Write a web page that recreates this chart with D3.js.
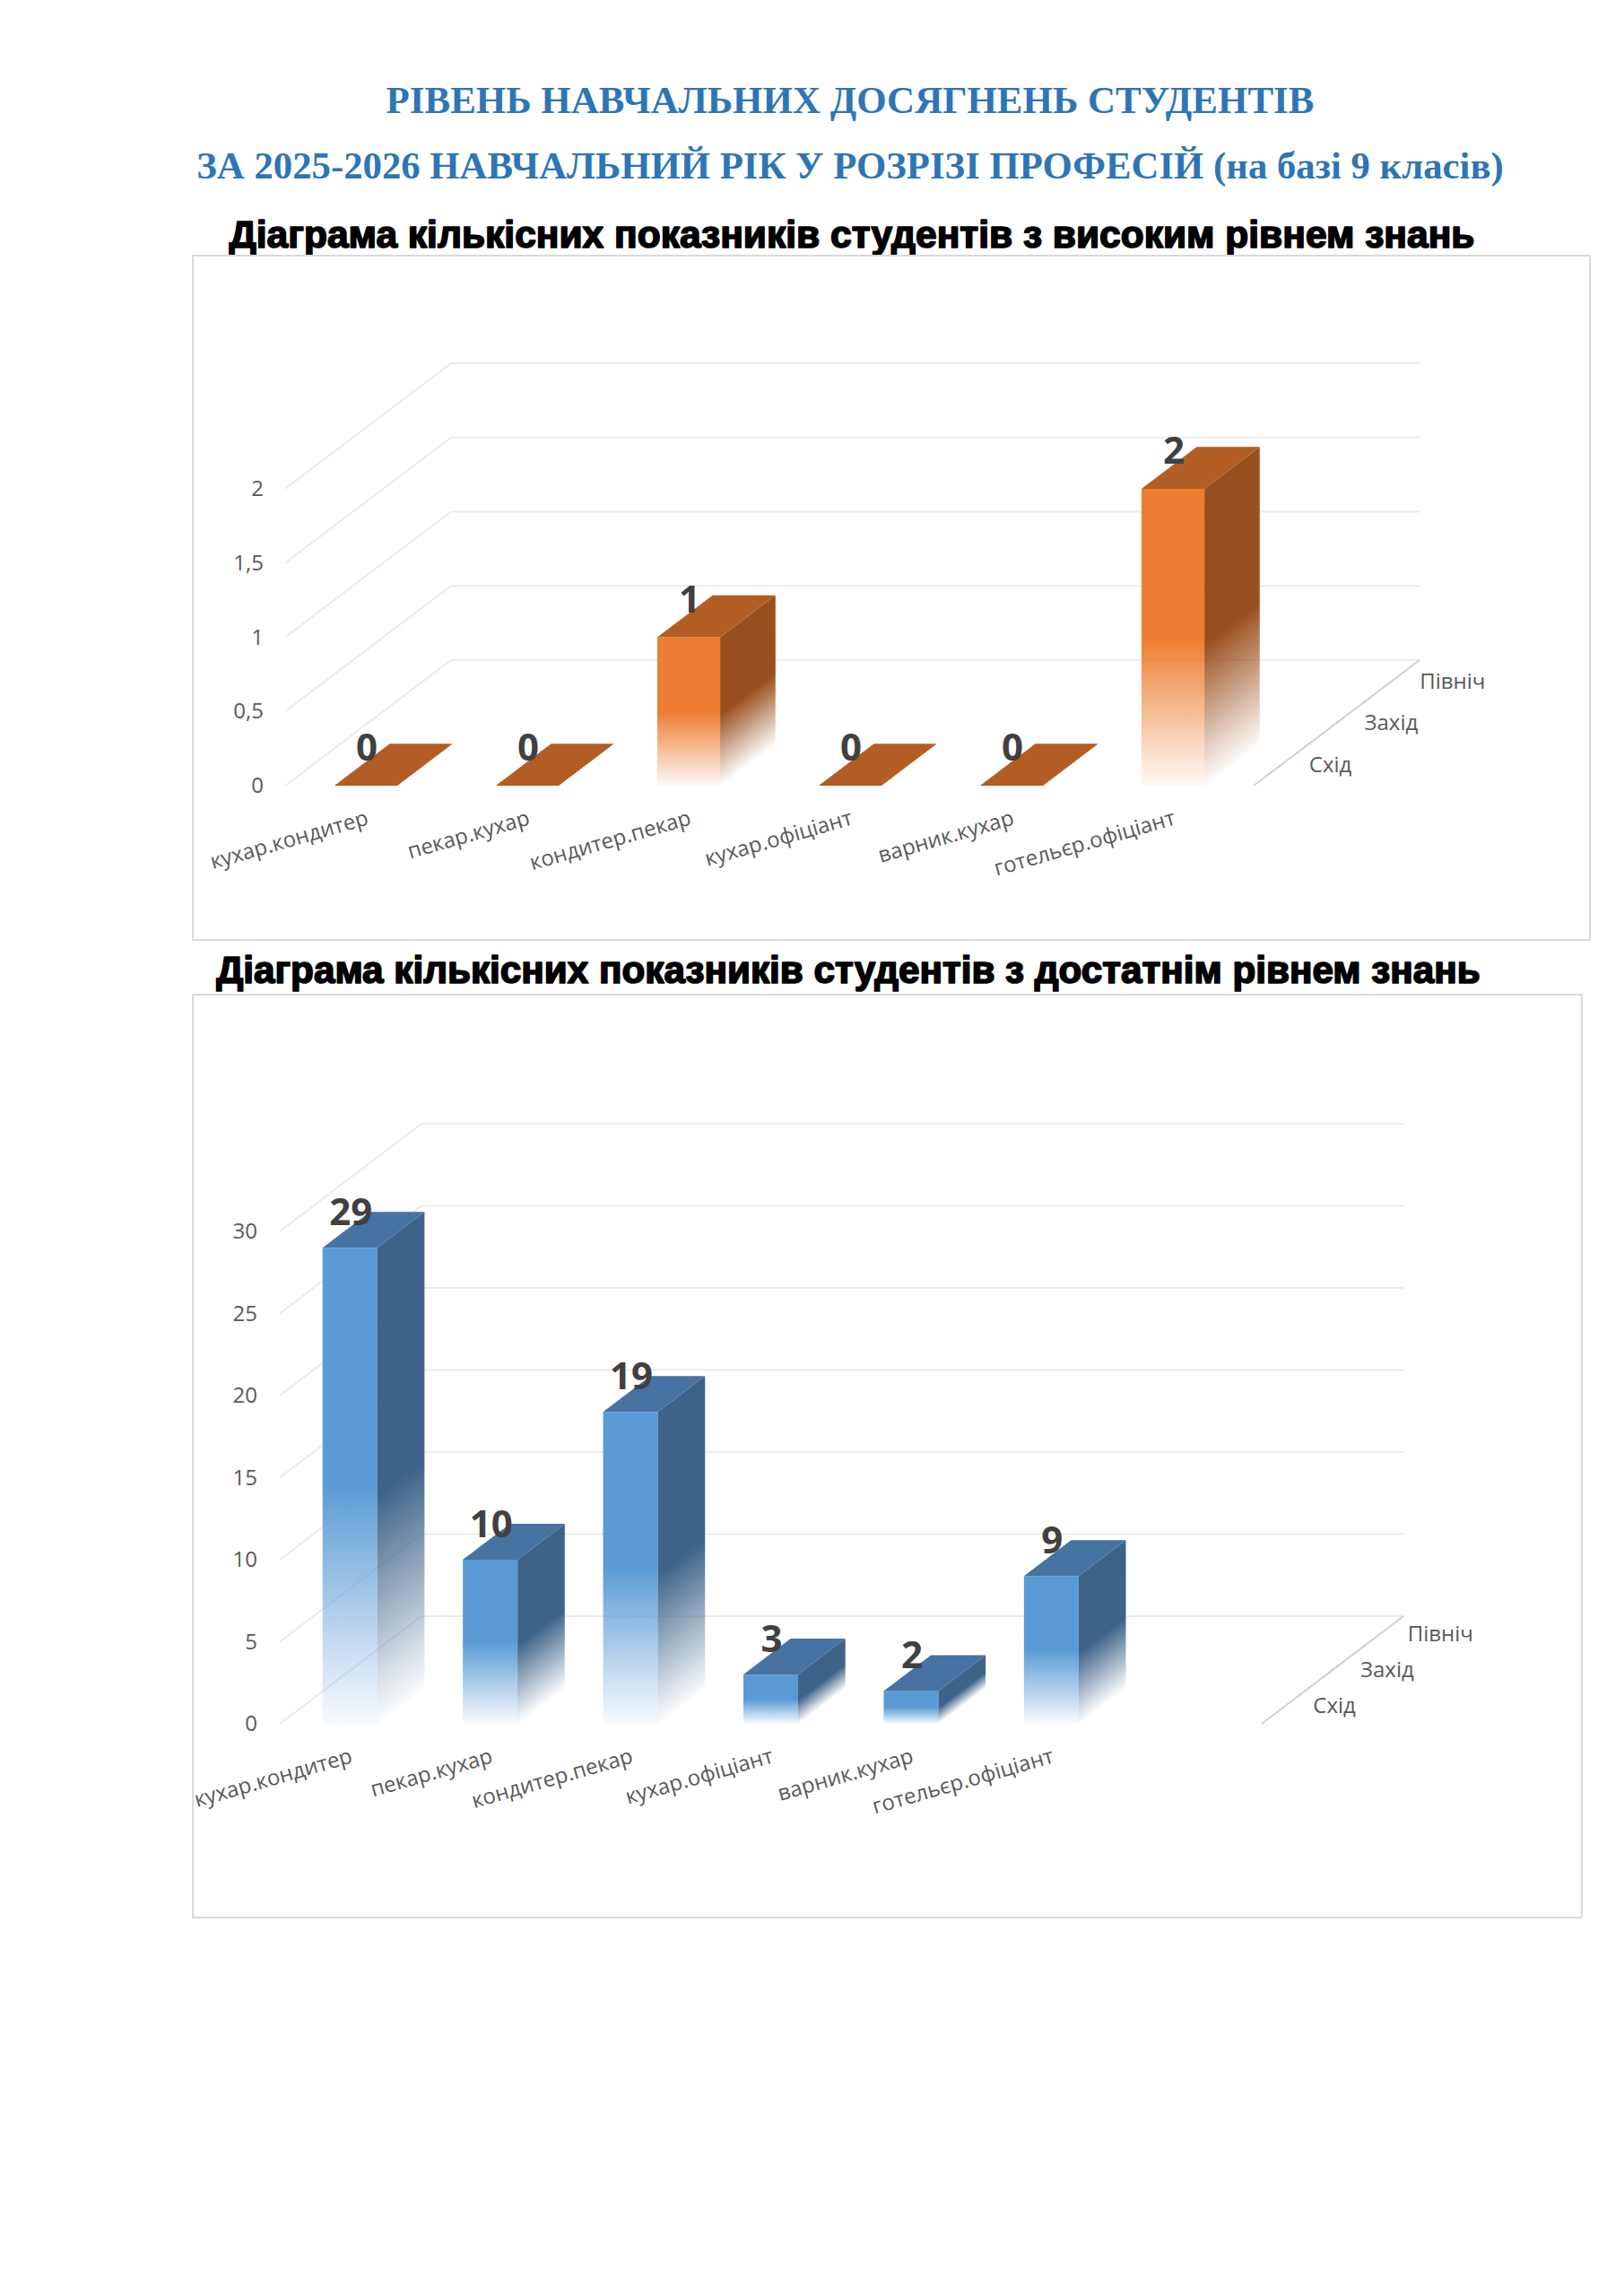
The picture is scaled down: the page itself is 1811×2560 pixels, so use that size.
<!DOCTYPE html>
<html>
<head>
<meta charset="utf-8">
<script src="https://cdn.jsdelivr.net/npm/d3@7"></script>
<style>
  html, body { margin: 0; padding: 0; background: #fff; }
  svg { display: block; }
</style>
</head>
<body>
<script>

// data
var categories = ["кухар.кондитер", "пекар.кухар", "кондитер.пекар", "кухар.офіціант", "варник.кухар", "готельєр.офіціант"];
var seriesNames = ["Схід", "Захід", "Північ"];
var highValues = [0, 0, 1, 0, 0, 2];
var sufficientValues = [29, 10, 19, 3, 2, 9];
var highTicks = [0, 0.5, 1, 1.5, 2];
var sufficientTicks = [0, 5, 10, 15, 20, 25, 30];

var titleLines = [
	"РІВЕНЬ НАВЧАЛЬНИХ ДОСЯГНЕНЬ СТУДЕНТІВ",
	"ЗА 2025-2026 НАВЧАЛЬНИЙ РІК У РОЗРІЗІ ПРОФЕСІЙ (на базі 9 класів)"
];
var chartTitles = [
	"Діаграма кількісних показників студентів з високим рівнем знань",
	"Діаграма кількісних показників студентів з достатнім рівнем знань"
];

var W = 1811, H = 2560;

var svg = d3.select("body").append("svg")
	.attr("width", W)
	.attr("height", H);

var defs = svg.append("defs");

// scale font so the text spans the measured width
function fitText(sel, target) {
	var w = sel.node().getComputedTextLength();
	var fs = parseFloat(sel.attr("font-size"));
	sel.attr("font-size", fs * target / w);
}

// page titles
var t1 = svg.append("text")
	.attr("x", 948).attr("y", 126)
	.attr("text-anchor", "middle")
	.attr("font-family", "Liberation Serif, Times New Roman, serif")
	.attr("font-weight", "bold")
	.attr("font-size", 41)
	.attr("fill", "#2E75B6")
	.text(titleLines[0]);
fitText(t1, 1035);

var t2 = svg.append("text")
	.attr("x", 948).attr("y", 199)
	.attr("text-anchor", "middle")
	.attr("font-family", "Liberation Serif, Times New Roman, serif")
	.attr("font-weight", "bold")
	.attr("font-size", 41)
	.attr("fill", "#2E75B6")
	.text(titleLines[1]);
fitText(t2, 1458);

function tickFormat(v) {
	return String(v).replace(".", ",");
}

function drawChart(cfg) {

	var g = svg.append("g");

	// chart title above the frame
	var title = g.append("text")
		.attr("x", cfg.titleX).attr("y", cfg.titleY)
		.attr("text-anchor", "middle")
		.attr("font-family", "Liberation Sans, Arial, sans-serif")
		.attr("font-weight", "bold")
		.attr("font-size", 38)
		.attr("fill", "#000")
		.attr("stroke", "#000")
		.attr("stroke-width", 1.7)
		.attr("stroke-linejoin", "round")
		.text(cfg.title);
	fitText(title, cfg.titleWidth);

	// frame
	g.append("rect")
		.attr("x", cfg.box[0]).attr("y", cfg.box[1])
		.attr("width", cfg.box[2]).attr("height", cfg.box[3])
		.attr("fill", "#fff")
		.attr("stroke", "#D9D9D9")
		.attr("stroke-width", 2);

	var slots = d3.range(cfg.slots);
	var x = d3.scaleBand()
		.domain(slots)
		.range([cfg.x0, cfg.x1])
		.paddingInner(0.61)
		.paddingOuter(0.305);

	var y = d3.scaleLinear()
		.domain([0, d3.max(cfg.ticks)])
		.range([cfg.floor, cfg.top]);

	var D = cfg.depth;              // full depth of the 3 series rows
	var d = [D[0] / 3, D[1] / 3];   // one row = one bar depth

	// back wall gridlines and side wall diagonals
	var grid = g.append("g")
		.attr("stroke", "#EBEBEB")
		.attr("stroke-width", 2)
		.attr("fill", "none");

	grid.selectAll("line.back")
		.data(cfg.ticks)
		.enter().append("line")
		.attr("class", "back")
		.attr("x1", cfg.x0 + D[0])
		.attr("x2", cfg.x1 + D[0])
		.attr("y1", function(v) { return y(v) + D[1]; })
		.attr("y2", function(v) { return y(v) + D[1]; });

	grid.selectAll("line.side")
		.data(cfg.ticks)
		.enter().append("line")
		.attr("class", "side")
		.attr("x1", cfg.x0)
		.attr("x2", cfg.x0 + D[0])
		.attr("y1", function(v) { return y(v); })
		.attr("y2", function(v) { return y(v) + D[1]; });

	// depth axis
	g.append("line")
		.attr("x1", cfg.x1).attr("y1", cfg.floor)
		.attr("x2", cfg.x1 + D[0]).attr("y2", cfg.floor + D[1])
		.attr("stroke", "#D0D0D0")
		.attr("stroke-width", 2);

	g.selectAll("text.series")
		.data(seriesNames)
		.enter().append("text")
		.attr("class", "series")
		.attr("x", function(s, i) { return cfg.x1 + D[0] * (i + 0.5) / 3 + 31; })
		.attr("y", function(s, i) { return cfg.floor + D[1] * (i + 0.5) / 3; })
		.attr("dy", "0.35em")
		.attr("font-family", "Open Sans, sans-serif")
		.attr("font-size", 24)
		.attr("fill", "#595959")
		.text(function(s) { return s; });

	// value axis
	var yAxis = d3.axisLeft(y)
		.tickValues(cfg.ticks)
		.tickSize(0)
		.tickPadding(0)
		.tickFormat(tickFormat);

	var ax = g.append("g")
		.attr("transform", "translate(" + cfg.axisX + ",0)")
		.call(yAxis);
	ax.select(".domain").remove();
	ax.selectAll("text")
		.attr("font-family", "Open Sans, sans-serif")
		.attr("font-size", 24)
		.attr("fill", "#595959");

	// gradients: solid in the upper half, fading to white at the floor
	var frontId = cfg.id + "-front";
	var fg = defs.append("linearGradient")
		.attr("id", frontId)
		.attr("x1", 0).attr("y1", 0).attr("x2", 0).attr("y2", 1);
	fg.append("stop").attr("offset", 0).attr("stop-color", cfg.colors.front).attr("stop-opacity", 1);
	fg.append("stop").attr("offset", 0.5).attr("stop-color", cfg.colors.front).attr("stop-opacity", 1);
	fg.append("stop").attr("offset", 1).attr("stop-color", cfg.colors.front).attr("stop-opacity", 0.04);

	var bars = g.append("g");

	cfg.values.forEach(function(v, i) {
		var left = x(i), right = x(i) + x.bandwidth(), cx = left + x.bandwidth() / 2;
		var yt = y(v), fl = cfg.floor, h = fl - yt;

		if (h > 0) {
			bars.append("rect")
				.attr("x", left).attr("y", yt)
				.attr("width", x.bandwidth()).attr("height", h)
				.attr("fill", "url(#" + frontId + ")");

			// side gradient follows the floor line of the side face
			var sid = cfg.id + "-side-" + i;
			var k = h / (1 + (d[1] / d[0]) * (d[1] / d[0]));
			var sg = defs.append("linearGradient")
				.attr("id", sid)
				.attr("gradientUnits", "userSpaceOnUse")
				.attr("x1", right).attr("y1", yt)
				.attr("x2", right - (d[1] / d[0]) * k).attr("y2", yt + k);
			sg.append("stop").attr("offset", 0).attr("stop-color", cfg.colors.side).attr("stop-opacity", 1);
			sg.append("stop").attr("offset", 0.52).attr("stop-color", cfg.colors.side).attr("stop-opacity", 1);
			sg.append("stop").attr("offset", 1).attr("stop-color", cfg.colors.side).attr("stop-opacity", 0.02);

			bars.append("path")
				.attr("d", d3.line()([
					[right, yt], [right + d[0], yt + d[1]],
					[right + d[0], fl + d[1]], [right, fl]
				]) + "Z")
				.attr("fill", "url(#" + sid + ")");
		}

		bars.append("path")
			.attr("d", d3.line()([
				[left, yt], [right, yt],
				[right + d[0], yt + d[1]], [left + d[0], yt + d[1]]
			]) + "Z")
			.attr("fill", cfg.colors.top);

		bars.append("text")
			.attr("x", cx + 1)
			.attr("y", yt + d[1] + cfg.labelShift + 0.357 * 42)
			.attr("text-anchor", "middle")
			.attr("font-family", "Open Sans, sans-serif")
			.attr("font-weight", "bold")
			.attr("font-size", 42)
			.attr("fill", "#404040")
			.text(v);
	});

	// category labels, slanted
	g.selectAll("text.cat")
		.data(categories)
		.enter().append("text")
		.attr("class", "cat")
		.attr("text-anchor", "end")
		.attr("font-family", "Open Sans, sans-serif")
		.attr("font-size", 24)
		.attr("fill", "#595959")
		.attr("transform", function(c, i) {
			return "translate(" + (x(i) + x.bandwidth() / 2 + 4) + "," + (cfg.floor + 43) + ") rotate(-16)";
		})
		.text(function(c) { return c; });
}

drawChart({
	id: "high",
	title: chartTitles[0],
	titleX: 950, titleY: 276, titleWidth: 1389,
	box: [215, 285, 1558, 763],
	values: highValues,
	ticks: highTicks,
	slots: 6,
	x0: 318, x1: 1398,
	floor: 876, top: 545,
	depth: [185, -140],
	axisX: 294,
	labelShift: 4,
	colors: { front: "#ED7D31", side: "#9A4F1E", top: "#B35D24" }
});

drawChart({
	id: "suff",
	title: chartTitles[1],
	titleX: 946, titleY: 1096, titleWidth: 1410,
	box: [215, 1109, 1549, 1029],
	values: sufficientValues,
	ticks: sufficientTicks,
	slots: 7,
	x0: 312, x1: 1407,
	floor: 1922, top: 1373,
	depth: [158, -120],
	axisX: 287,
	labelShift: 0,
	colors: { front: "#5B9BD5", side: "#3D6389", top: "#4673A1" }
});

</script>
</body>
</html>
